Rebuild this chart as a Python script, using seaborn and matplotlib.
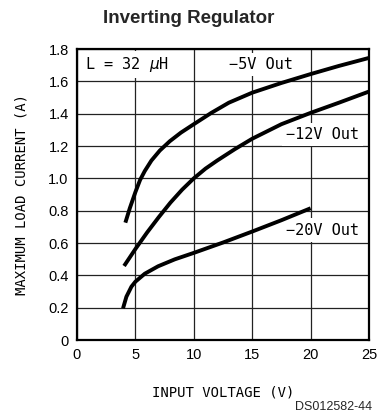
import numpy as np
import pandas as pd
import matplotlib
matplotlib.use('Agg')
import matplotlib.pyplot as plt
import seaborn as sns

# values
v_5 = [4.14, 4.52, 5.0, 5.4, 5.8, 6.37, 7.09, 7.95, 8.9, 10.0, 11.5, 13.0, 15.0, 17.5, 20.0, 22.4, 25.0]
i_5 = [0.726, 0.815, 0.915, 0.99, 1.045, 1.11, 1.172, 1.23, 1.283, 1.335, 1.405, 1.468, 1.53, 1.59, 1.645, 1.695, 1.745]

v_12 = [4.03, 5.0, 6.0, 7.0, 8.0, 9.0, 10.0, 11.0, 12.0, 13.5, 15.0, 17.5, 20.0, 22.5, 25.0]
i_12 = [0.458, 0.563, 0.665, 0.76, 0.85, 0.93, 1.0, 1.06, 1.11, 1.18, 1.245, 1.335, 1.405, 1.47, 1.537]

v_20 = [3.94, 4.23, 4.66, 5.0, 5.8, 6.94, 8.37, 10.0, 12.5, 15.0, 17.5, 20.0]
i_20 = [0.196, 0.268, 0.33, 0.361, 0.41, 0.456, 0.499, 0.539, 0.603, 0.671, 0.741, 0.815]

x_ticks = [0, 5, 10, 15, 20, 25]
y_ticks = [0, 0.2, 0.4, 0.6, 0.8, 1.0, 1.2, 1.4, 1.6, 1.8]
y_labels = ['0', '0.2', '0.4', '0.6', '0.8', '1.0', '1.2', '1.4', '1.6', '1.8']

df = pd.concat([
    pd.DataFrame({'V': v_5, 'I': i_5, 'out': '-5V'}),
    pd.DataFrame({'V': v_12, 'I': i_12, 'out': '-12V'}),
    pd.DataFrame({'V': v_20, 'I': i_20, 'out': '-20V'}),
])

sns.set_style('white')
plt.rcParams['font.family'] = ['Liberation Sans', 'DejaVu Sans']

fig = plt.figure(figsize=(3.78, 4.19), dpi=100)
ax = fig.add_axes([0.2037, 0.1885, 0.7725, 0.6945])

sns.lineplot(data=df, x='V', y='I', units='out', estimator=None, sort=False,
             color='black', lw=2.8, ax=ax, legend=False, zorder=3,
             solid_capstyle='butt', solid_joinstyle='round')

ax.set_xlim(0, 25)
ax.set_ylim(0, 1.8)
ax.set_xticks(x_ticks)
ax.set_yticks(y_ticks)
ax.set_yticklabels(y_labels)
ax.tick_params(length=0, labelsize=10.5, pad=6, colors='black')
ax.grid(True, color='#222222', lw=0.9)
ax.set_axisbelow(True)
for s in ax.spines.values():
    s.set_color('black')
    s.set_linewidth(1.6)

lab = dict(family='DejaVu Sans Mono', fontsize=10, color='black')
ax.set_xlabel('INPUT VOLTAGE (V)', labelpad=17, **lab)
ax.set_ylabel('MAXIMUM LOAD CURRENT (A)', labelpad=14, **lab)

# labels sit over the grid but under the curves
ann = dict(family='DejaVu Sans Mono', fontsize=11, color='black', va='center', zorder=2,
           bbox=dict(facecolor='white', edgecolor='none', pad=3))
ax.text(0.66, 1.703, 'L = 32 $\\mu$H', **ann)
ax.text(13.0, 1.703, '\u22125V Out', **ann)
ax.text(17.88, 1.27, '\u221212V Out', **ann)
ax.text(17.88, 0.68, '\u221220V Out', **ann)

fig.text(0.5, 0.957, 'Inverting Regulator', ha='center', va='center',
         fontsize=13.5, fontweight='bold')
fig.text(0.985, 0.029, 'DS012582-44', ha='right', va='center', fontsize=9)

fig.savefig('out.png', dpi=100)
